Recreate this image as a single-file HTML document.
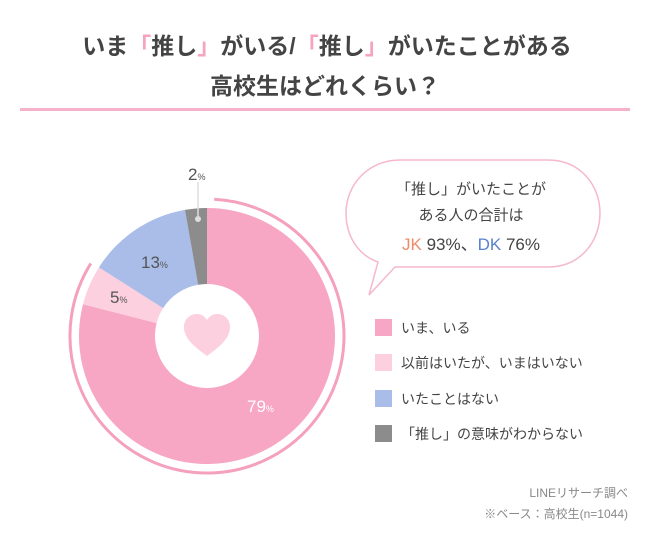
<!DOCTYPE html>
<html><head><meta charset="utf-8"><style>
body{margin:0;background:#fff;}
svg{display:block;font-family:"Liberation Sans","Noto Sans CJK JP",sans-serif;}
</style></head><body>
<svg width="650" height="540" viewBox="0 0 650 540">
<g font-size="23" font-weight="bold" fill="#444" text-anchor="middle">
<text x="327" y="54"><tspan>いま</tspan><tspan fill="#f5a3c0">「</tspan><tspan>推し</tspan><tspan fill="#f5a3c0">」</tspan><tspan>がいる/</tspan><tspan fill="#f5a3c0">「</tspan><tspan>推し</tspan><tspan fill="#f5a3c0">」</tspan><tspan>がいたことがある</tspan></text>
<text x="325" y="94">高校生はどれくらい？</text>
</g>
<rect x="20" y="108" width="610" height="3" fill="#f7b2cb"/>
<!-- donut -->
<path d="M207,208 A128,128 0 1,1 83.0,304.2 L156.6,323.1 A52,52 0 1,0 207,284 Z" fill="#f7a6c4"/>
<path d="M83.0,304.2 A128,128 0 0,1 98.9,267.4 L163.1,308.1 A52,52 0 0,0 156.6,323.1 Z" fill="#fcd0df"/>
<path d="M98.9,267.4 A128,128 0 0,1 185.0,209.9 L198.1,284.8 A52,52 0 0,0 163.1,308.1 Z" fill="#a9bde8"/>
<path d="M185.0,209.9 A128,128 0 0,1 207,208 L207,284 A52,52 0 0,0 198.1,284.8 Z" fill="#8c8c8c"/>
<path d="M214.2,199.2 A137,137 0 1,1 90.8,263.4" fill="none" stroke="#f4a0be" stroke-width="3"/>
<path d="M207,356 C190,344 184,336 184,327 C184,319 190,314 197,314 C202,314 205,317 207,320 C209,317 212,314 217,314 C224,314 230,319 230,327 C230,336 224,344 207,356 Z" fill="#fdd0df"/>
<line x1="198" y1="182" x2="198" y2="218" stroke="#ddd" stroke-width="1.5"/>
<circle cx="198" cy="219" r="3" fill="#ddd"/>
<g fill="#555" font-size="17">
<text x="188" y="180">2<tspan font-size="9">%</tspan></text>
<text x="141" y="268">13<tspan font-size="9">%</tspan></text>
<text x="110" y="303">5<tspan font-size="9">%</tspan></text>
<text x="247" y="412" fill="#fff">79<tspan font-size="9">%</tspan></text>
</g>
<!-- bubble -->
<path d="M400,160 L548,160 C580,160 600,185 600,213 C600,242 580,267 548,267 L395,267 L369,295 L378,262 C358,255 346,236 346,213 C346,185 368,160 400,160 Z" fill="#fff" stroke="#f5b8cc" stroke-width="1.5"/>
<g font-size="15" fill="#444" text-anchor="middle">
<text x="471" y="194">「推し」がいたことが</text>
<text x="471" y="220">ある人の合計は</text>
<text x="471" y="250" font-size="17"><tspan fill="#f08a6a">JK</tspan> 93%、<tspan fill="#5a80d0">DK</tspan> 76%</text>
</g>
<!-- legend -->
<g font-size="14" fill="#444">
<rect x="375" y="319" width="17" height="17" fill="#f7a6c4"/><text x="401" y="333">いま、いる</text>
<rect x="375" y="354" width="17" height="17" fill="#fcd0df"/><text x="401" y="368">以前はいたが、いまはいない</text>
<rect x="375" y="390" width="17" height="17" fill="#a9bde8"/><text x="401" y="404">いたことはない</text>
<rect x="375" y="425" width="17" height="17" fill="#8c8c8c"/><text x="401" y="439">「推し」の意味がわからない</text>
</g>
<g font-size="12" fill="#888" text-anchor="end">
<text x="628" y="497">LINEリサーチ調べ</text>
<text x="628" y="518">※ベース：高校生(n=1044)</text>
</g>
</svg>
</body></html>
